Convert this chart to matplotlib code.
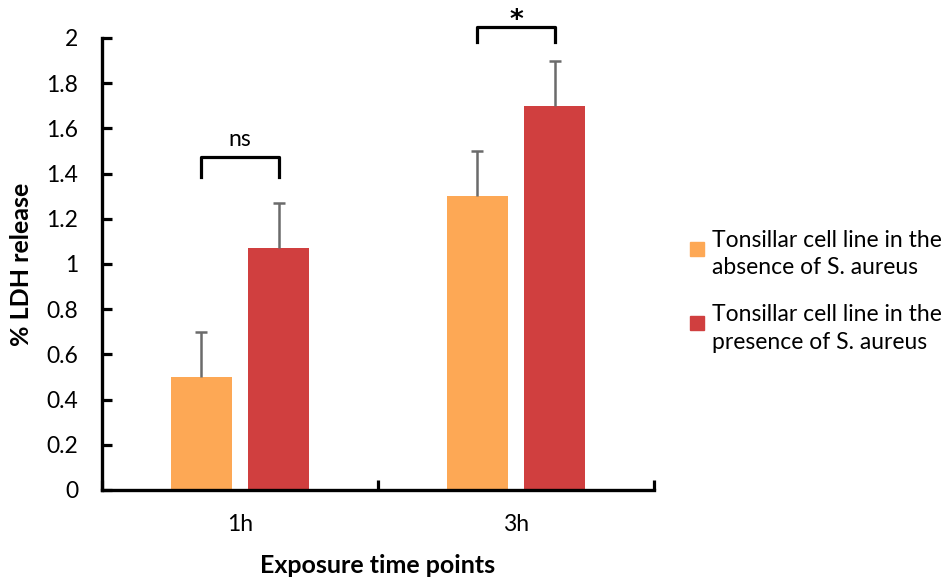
import matplotlib.pyplot as plt
from matplotlib.patches import Rectangle
from matplotlib.legend_handler import HandlerPatch
import numpy as np

plt.rcParams['font.family'] = ['Lato', 'DejaVu Sans']

# data
timepoints = ['1h', '3h']
absence = [0.5, 1.3]
absence_err = [0.2, 0.2]
presence = [1.07, 1.7]
presence_err = [0.2, 0.2]
labels = ['Tonsillar cell line in the\nabsence of S. aureus',
          'Tonsillar cell line in the\npresence of S. aureus']
# significance brackets: (category, bracket top, leg bottom, text)
sig = [(0, 1.475, 1.385, 'ns'), (1, 2.05, 1.98, '*')]

c_abs = '#FDA855'
c_pres = '#D03F3F'
c_err = '#6B6B6B'

fig = plt.figure(figsize=(9.48, 5.77), dpi=100)
ax = fig.add_axes([0.1076, 0.1508, 0.5823, 0.7834])

x = np.arange(len(timepoints))
w = 0.221
off = 0.141
ax.bar(x - off, absence, w, color=c_abs, zorder=2)
ax.bar(x + off, presence, w, color=c_pres, zorder=2)

# one-sided (upper) error bars
for xs, vals, errs in [(x - off, absence, absence_err), (x + off, presence, presence_err)]:
    tops = np.array(vals) + np.array(errs)
    ax.vlines(xs, vals, tops, color=c_err, lw=1.8, zorder=3)
    ax.plot(xs, tops, ls='none', marker='_', ms=9, mew=1.8, color=c_err, zorder=3)

for i, top, bot, txt in sig:
    xs = [i - off, i - off, i + off, i + off]
    ax.plot(xs, [bot, top, top, bot], color='black', lw=2.3, clip_on=False,
            solid_joinstyle='round')
    if txt == '*':
        ax.text(i, top + 0.025, txt, ha='center', va='center', fontsize=19,
                fontweight='bold', family='DejaVu Sans', clip_on=False)
    else:
        ax.text(i, top + 0.03, txt, ha='center', va='bottom', fontsize=16.5)

ax.set_xlim(-0.5, 1.5)
ax.set_ylim(0, 2)
ax.set_yticks(np.arange(0, 2.01, 0.2))
ax.set_yticklabels(['0'] + [f'{v:.1f}'.rstrip('0').rstrip('.') for v in np.arange(0.2, 2.01, 0.2)])
ax.set_xticks([-0.5, 0.5, 1.5])
ax.set_xticklabels([])
ax.set_xticks(x, minor=True)
ax.set_xticklabels(timepoints, minor=True)
ax.tick_params(axis='x', which='minor', length=0, pad=17, labelsize=16.5)
ax.tick_params(axis='x', which='major', direction='in', length=7, width=2.3)
ax.tick_params(axis='y', direction='in', length=7, width=2.3, pad=17, labelsize=16.5)

for s in ['top', 'right']:
    ax.spines[s].set_visible(False)
for s in ['left', 'bottom']:
    ax.spines[s].set_linewidth(2.4)

ax.set_ylabel('% LDH release', fontsize=18, fontweight='bold', labelpad=10)
ax.set_xlabel('Exposure time points', fontsize=18, fontweight='bold', labelpad=14)


def top_square(legend, orig_handle, xdescent, ydescent, width, height, fontsize):
    s = 0.6 * fontsize
    return Rectangle((-xdescent, -ydescent + height - s - 0.3 * fontsize), s, s)


handles = [Rectangle((0, 0), 1, 1, color=c_abs), Rectangle((0, 0), 1, 1, color=c_pres)]
leg = ax.legend(handles, labels, loc='center left', bbox_to_anchor=(1.065, 0.44),
                frameon=False, fontsize=16.5, handlelength=0.6, handleheight=2.3,
                handletextpad=0.35, labelspacing=1.1, borderpad=0, borderaxespad=0,
                handler_map={Rectangle: HandlerPatch(patch_func=top_square)})
for t in leg.get_texts():
    t.set_linespacing(1.4)

fig.savefig('out.png', dpi=100)
